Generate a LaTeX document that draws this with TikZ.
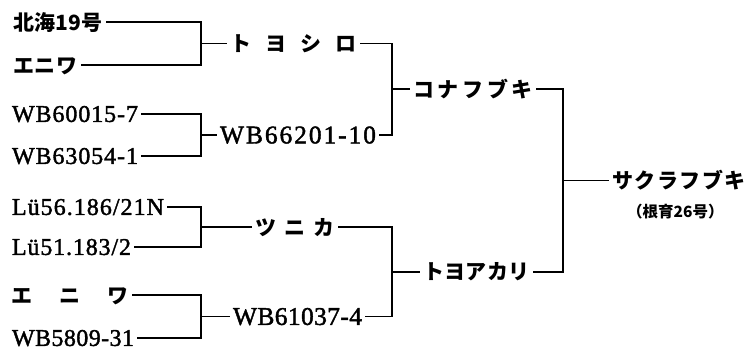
\documentclass[tikz,border=0pt]{standalone}
\usepackage{fontspec}
\setmainfont{Liberation Serif}
\newfontfamily\lat{Liberation Serif}[FakeBold=1.6]
\newfontfamily\jp{Noto Sans CJK JP}
\makeatletter
\newcommand{\spr}[2]{\makebox[#1][s]{\def\spr@f{1}\@tfor\spr@c:=#2\do{\ifx\spr@f\@empty\hfil\fi\spr@c\def\spr@f{}}}}
\makeatother
\tikzset{
  latn/.style={anchor=west, inner sep=0pt, outer xsep=3pt, text height=15.8pt, text depth=0pt, font=\lat\fontsize{24}{26}\selectfont},
  latb/.style={latn, text height=16.8pt, font=\lat\fontsize{25.5}{27}\selectfont},
  jpn/.style={anchor=west, inner sep=0pt, outer xsep=3pt, text height=16.4pt, text depth=0pt, font=\jp\bfseries\fontsize{21}{23}\selectfont},
  jps/.style={anchor=west, inner sep=0pt, font=\jp\bfseries\fontsize{15.5}{17}\selectfont},
  link/.style={line width=1.6pt, line join=miter},
}
\begin{document}
\begin{tikzpicture}[x=1pt,y=-1pt]
\useasboundingbox (0,0) rectangle (748,351);
% leaves
\node[jpn]  (L1) at (10,22)  {\spr{90pt}{北海{19}号}};
\node[jpn]  (L2) at (10,65)  {\spr{65pt}{エニワ}};
\node[latn] (L3) at (9,114)  {\spr{126pt}{WB60015-7}};
\node[latn] (L4) at (9,156)  {\spr{126pt}{WB63054-1}};
\node[latn] (L5) at (9,207)  {\spr{152pt}{Lü56.186/21N}};
\node[latn] (L6) at (9,247)  {\spr{119pt}{Lü51.183/2}};
\node[jpn]  (L7) at (9,295)  {\spr{117pt}{エニワ}};
\node[latn] (L8) at (9,338)  {\spr{122pt}{WB5809-31}};
% junction coordinates
\coordinate (J1) at (201,43.5);
\coordinate (J2) at (201,135);
\coordinate (J3) at (201,227);
\coordinate (J4) at (201,316.5);
% second level
\node[jpn]  (M1) at (227,43.5) {\spr{127pt}{トヨシロ}};
\node[latb] (M2) at (217,135)  {\spr{156pt}{WB66201-10}};
\node[jpn]  (M3) at (252,227)  {\spr{80pt}{ツニカ}};
\node[latb] (M4) at (230,316.5){\spr{129pt}{WB61037-4}};
\coordinate (K1) at (392,89.25);
\coordinate (K2) at (392,271.75);
% third level
\node[jpn] (T1) at (410,89.25)  {\spr{120pt}{コナフブキ}};
\node[jpn] (T2) at (420,271.75) {\spr{107pt}{トヨアカリ}};
\coordinate (R) at (563,180.5);
% root
\node[jpn] (root) at (609,180.5) {\spr{134pt}{サクラフブキ}};
\node[jps] (rootsub) at (627,212) {（根育26号）};
% connectors level 1
\draw[link] (L1.east) -- (L1.east -| J1) -- (L2.east -| J1) -- (L2.east);
\draw[link] (J1) -- (M1.west);
\draw[link] (L3.east) -- (L3.east -| J2) -- (L4.east -| J2) -- (L4.east);
\draw[link] (J2) -- (M2.west);
\draw[link] (L5.east) -- (L5.east -| J3) -- (L6.east -| J3) -- (L6.east);
\draw[link] (J3) -- (M3.west);
\draw[link] (L7.east) -- (L7.east -| J4) -- (L8.east -| J4) -- (L8.east);
\draw[link] (J4) -- (M4.west);
% level 2
\draw[link] (M1.east) -- (M1.east -| K1) -- (M2.east -| K1) -- (M2.east);
\draw[link] (K1) -- (T1.west);
\draw[link] (M3.east) -- (M3.east -| K2) -- (M4.east -| K2) -- (M4.east);
\draw[link] (K2) -- (T2.west);
% level 3
\draw[link] (T1.east) -- (T1.east -| R) -- (T2.east -| R) -- (T2.east);
\draw[link] (R) -- (root.west);
\end{tikzpicture}
\end{document}
